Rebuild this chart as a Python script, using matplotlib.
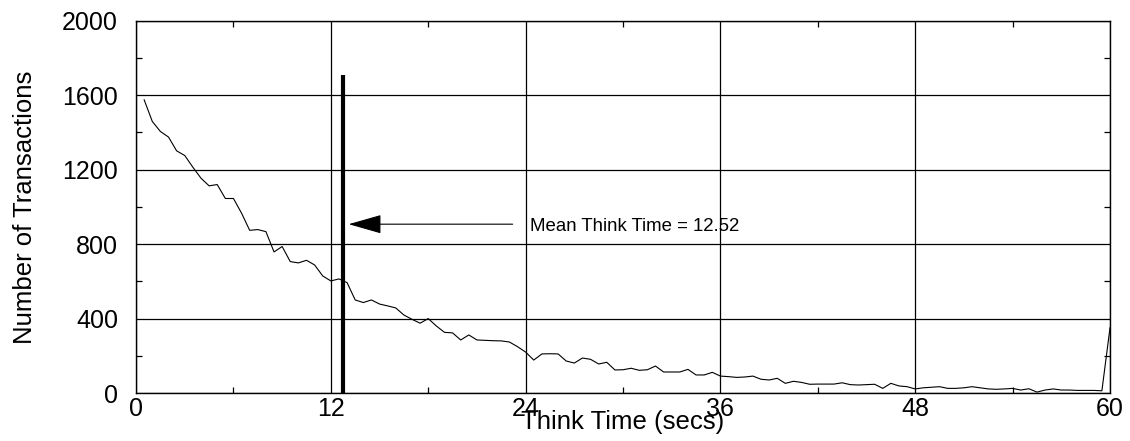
import matplotlib
matplotlib.use("Agg")
import matplotlib.pyplot as plt
import numpy as np

plt.rcParams['font.family'] = ['Liberation Sans', 'DejaVu Sans']

# think time histogram, one bin every 0.5 s
think_time = np.arange(1, 121) * 0.5
transactions = [
    1575, 1459, 1405, 1375, 1301, 1276, 1213, 1154, 1113, 1120,
    1045, 1045, 966, 874, 878, 867, 758, 787, 706, 699,
    713, 688, 629, 602, 613, 593, 500, 486, 500, 478,
    468, 457, 419, 396, 375, 400, 360, 326, 323, 285,
    312, 285, 283, 281, 280, 274, 249, 220, 177, 210,
    211, 210, 172, 161, 188, 181, 156, 165, 124, 125,
    133, 122, 125, 145, 113, 113, 113, 127, 97, 97,
    111, 91, 88, 84, 86, 91, 74, 70, 79, 52,
    63, 57, 47, 48, 48, 48, 55, 45, 43, 45,
    47, 25, 52, 38, 34, 22, 28, 31, 34, 25,
    25, 28, 34, 28, 22, 20, 22, 25, 16, 23,
    5, 16, 22, 16, 16, 14, 14, 14, 12, 350,
]

mean_label = "Mean Think Time = 12.52"
mean_line_x = 12.75      # where the thick bar sits in the picture
mean_line_top = 1710
arrow_y = 907
arrow_tip_x = 13.1
arrow_tail_x = 23.2
label_x = 24.25

x_major = [0, 12, 24, 36, 48, 60]
y_major = [0, 400, 800, 1200, 1600, 2000]

fig, ax = plt.subplots(figsize=(11.3, 4.41), dpi=100)
fig.subplots_adjust(left=0.1204, right=0.9823, top=0.953, bottom=0.1088)

ax.plot(think_time, transactions, color='black', linewidth=0.8)
ax.vlines(mean_line_x, 0, mean_line_top, color='black', linewidth=3.0)

ax.annotate('', xy=(arrow_tip_x, arrow_y), xytext=(arrow_tail_x, arrow_y),
            arrowprops=dict(arrowstyle='-|>,head_length=2.1,head_width=0.6',
                            mutation_scale=10, color='black', linewidth=0.8,
                            shrinkA=0, shrinkB=0))
ax.text(label_x, arrow_y - 15, mean_label, fontsize=13.4, va='center', ha='left')

ax.set_xlim(0, 60)
ax.set_ylim(0, 2000)
ax.set_xticks(x_major)
ax.set_yticks(y_major)
ax.set_xticks(np.arange(6, 60, 12), minor=True)
ax.set_yticks(np.arange(200, 2000, 400), minor=True)
ax.grid(True, which='major', color='black', linewidth=0.9)

ax.tick_params(which='major', length=0, labelsize=18)
ax.tick_params(axis='y', which='major', pad=13)
ax.tick_params(axis='x', which='major', pad=3)
ax.tick_params(which='minor', direction='in', length=4.5, width=0.9,
               top=True, right=True)
for s in ax.spines.values():
    s.set_linewidth(1.0)

ax.set_ylabel('Number of Transactions', fontsize=18.5)
ax.yaxis.set_label_coords(-0.102, 0.5)
ax.set_xlabel('Think Time (secs)', fontsize=18.5)
ax.xaxis.set_label_coords(0.5, -0.045)

fig.savefig('out.png', dpi=100)
